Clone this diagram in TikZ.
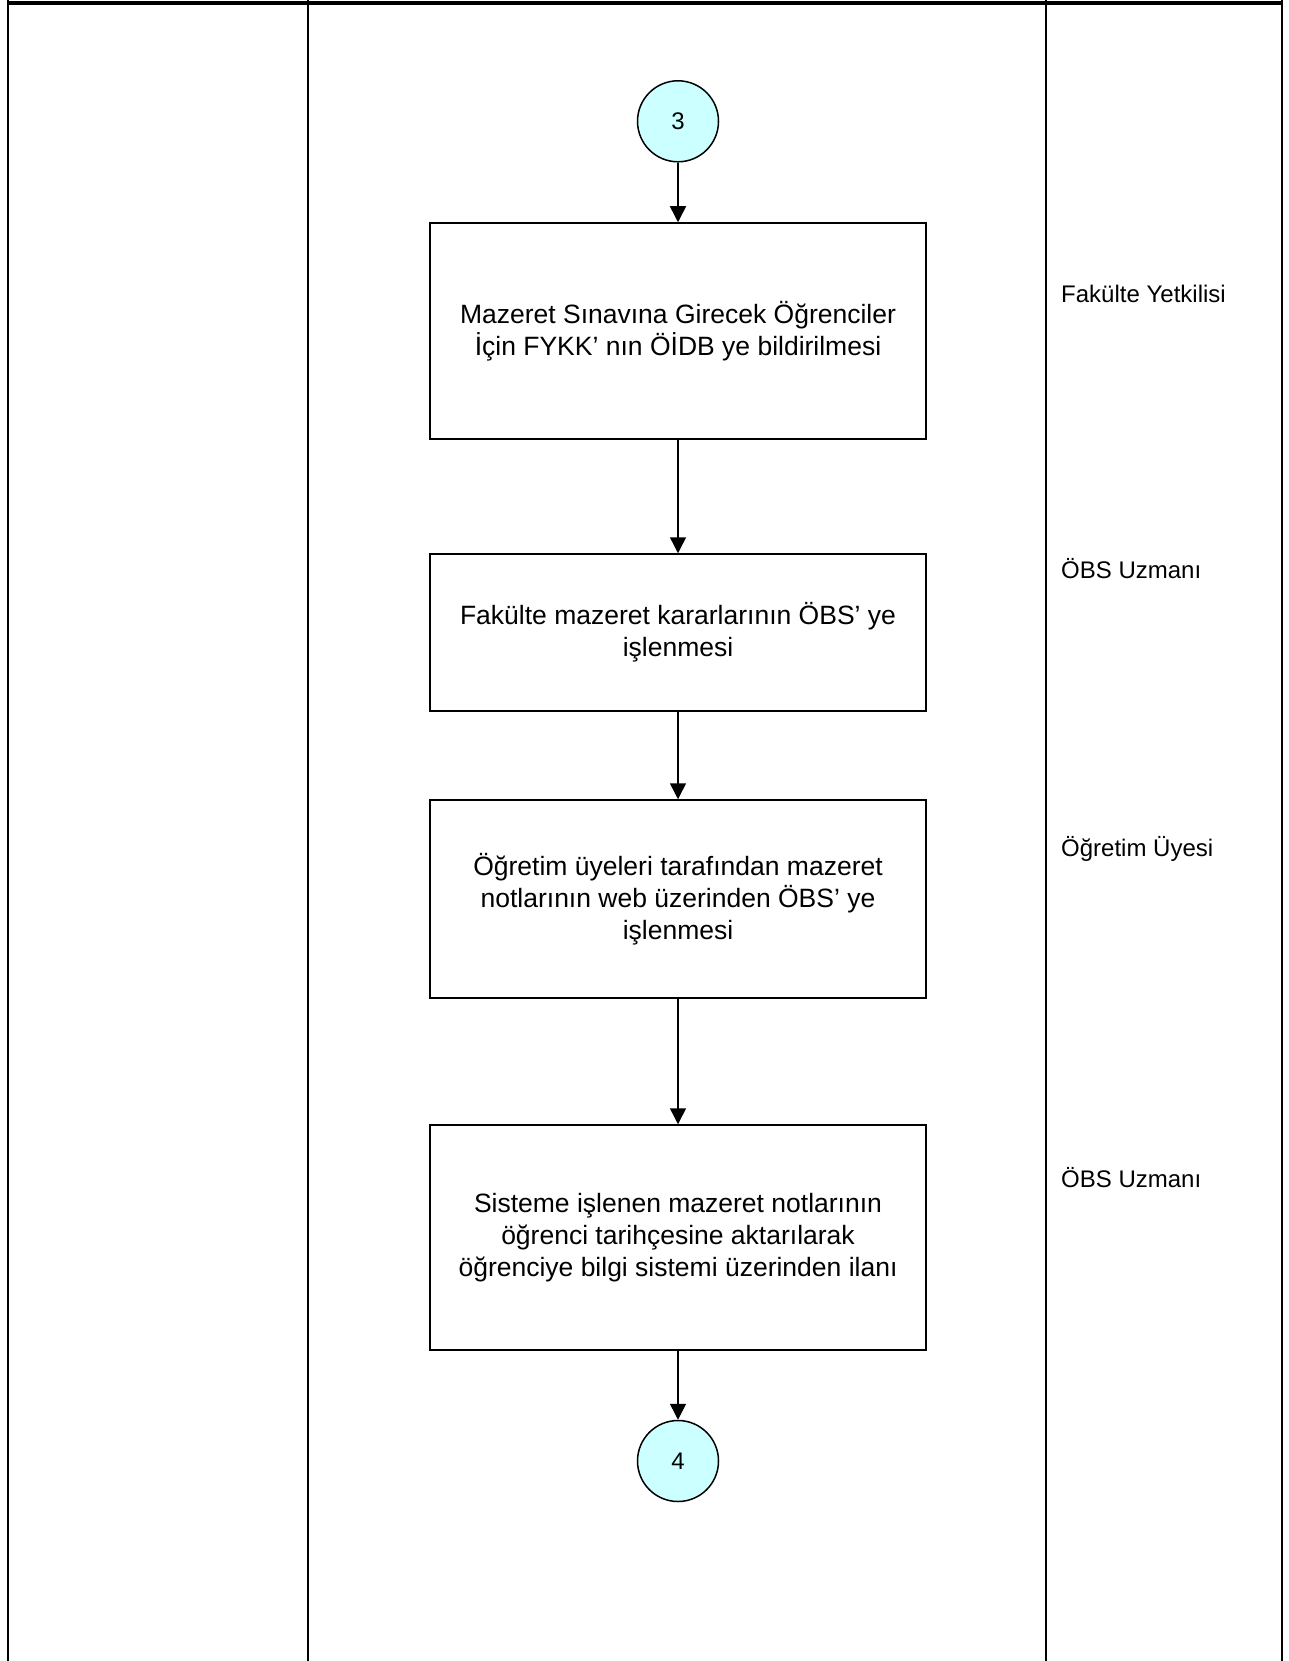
\documentclass[tikz,border=0pt]{standalone}
\usepackage{fontspec}
\setmainfont{Liberation Sans}
\usetikzlibrary{arrows.meta}
\definecolor{conncyan}{HTML}{CCFFFF}
\tikzset{
  procbox/.style={draw=black, line width=1.5pt, fill=white, minimum width=496pt, inner sep=0pt, align=center,
    font=\fontsize{26.5}{32}\selectfont},
  connector/.style={circle, draw=black, line width=1.5pt, fill=conncyan, minimum size=81pt, inner sep=0pt,
    font=\fontsize{24}{28}\selectfont},
  arr/.style={line width=1.5pt, -{Triangle[length=16pt,width=16pt]}},
  lane/.style={line width=2.3pt},
  rolelabel/.style={anchor=base west, inner sep=0pt, font=\fontsize{24}{28}\selectfont}
}
\begin{document}
\begin{tikzpicture}[x=1pt,y=-1pt]
\useasboundingbox (0,0) rectangle (1288,1661);
\fill[white] (0,0) rectangle (1288,1661);
% frame
\draw[lane] (8.3,0) -- (8.3,1661);
\draw[lane] (308,0) -- (308,1661);
\draw[lane] (1046,0) -- (1046,1661);
\draw[lane] (1282,0) -- (1282,1661);
\draw[line width=4pt] (7,3) -- (1283,3);
% nodes
\node[connector] (c3) at (678,121.3) {3};
\node[procbox, minimum height=216pt] (b1) at (678,331) {Mazeret Sınavına Girecek Öğrenciler\\İçin FYKK’ nın ÖİDB ye bildirilmesi};
\node[procbox, minimum height=157pt] (b2) at (678,632.5) {Fakülte mazeret kararlarının ÖBS’ ye\\işlenmesi};
\node[procbox, minimum height=198pt] (b3) at (678,899) {Öğretim üyeleri tarafından mazeret\\notlarının web üzerinden ÖBS’ ye\\işlenmesi};
\node[procbox, minimum height=225pt] (b4) at (678,1237.5) {Sisteme işlenen mazeret notlarının\\öğrenci tarihçesine aktarılarak\\öğrenciye bilgi sistemi üzerinden ilanı};
\node[connector] (c4) at (678,1461) {4};
% connectors
\draw[arr] (c3) -- (b1);
\draw[arr] (b1) -- (b2);
\draw[arr] (b2) -- (b3);
\draw[arr] (b3) -- (b4);
\draw[arr] (b4) -- (c4);
% role labels
\node[rolelabel] (r1) at (1061,303) {Fakülte Yetkilisi};
\node[rolelabel] (r2) at (1061,578) {ÖBS Uzmanı};
\node[rolelabel] (r3) at (1061,856) {Öğretim Üyesi};
\node[rolelabel] (r4) at (1061,1187) {ÖBS Uzmanı};
\end{tikzpicture}
\end{document}
